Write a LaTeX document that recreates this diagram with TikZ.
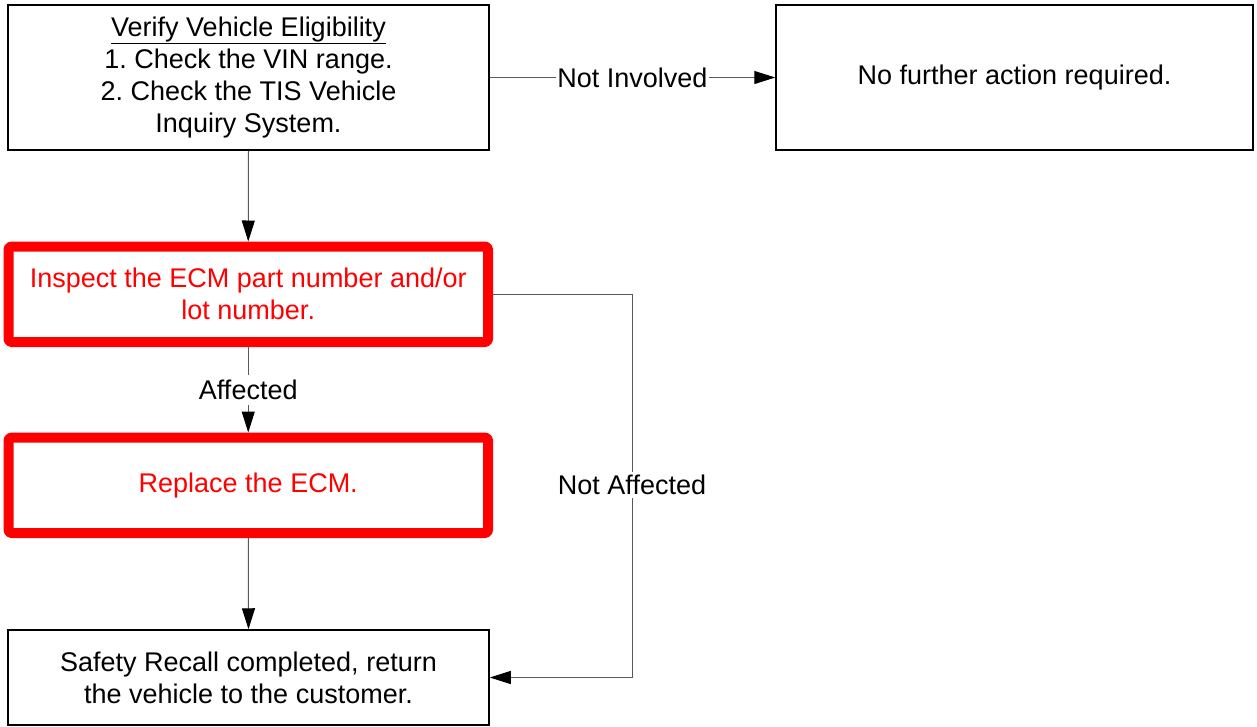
\documentclass[tikz,border=0pt]{standalone}
\usepackage{fontspec}
\setmainfont{Liberation Sans}
\usetikzlibrary{arrows.meta}
\frenchspacing
\begin{document}
\begin{tikzpicture}[x=1pt,y=-1pt,
  txt/.style={font=\fontsize{27}{32}\selectfont},
  box/.style={txt, draw=black, line width=1.5pt, align=center, inner sep=0pt},
  redbox/.style={txt, draw=red, line width=10pt, line join=round, rounded corners=3pt, text=red, align=center, inner sep=0pt},
  conn/.style={draw=black!65, line width=1pt, -{Triangle[length=21pt,width=13pt,color=black]}},
  lbl/.style={txt, fill=white, inner xsep=1pt, inner ysep=3pt}]
\useasboundingbox (0,0) rectangle (1257,726);
\node[box, minimum width=481pt, minimum height=145pt] (v) at (248.5,77.5)
  {\underline{Verify Vehicle Eligibility}\\1. Check the VIN range.\\2. Check the TIS Vehicle\\Inquiry System.};
\node[box, minimum width=477pt, minimum height=145pt] (n) at (1014.5,77.5)
  {No further action required.};
\node[redbox, minimum width=479.5pt, minimum height=95.5pt] (i) at (248.25,294.25)
  {Inspect the ECM part number and/or\\lot number.};
\node[redbox, minimum width=479.5pt, minimum height=95.5pt] (r) at (248.25,485.25)
  {Replace the ECM.};
\node[box, minimum width=481pt, minimum height=95pt] (s) at (248.5,677.5)
  {Safety Recall completed, return\\the vehicle to the customer.};
\draw[conn] (v.east) -- (n.west) node[lbl, midway] {Not Involved};
\draw[conn] (v.south) -- (i.north);
\draw[conn] (i.south) -- (r.north) node[lbl, midway, inner ysep=5pt] {Affected};
\draw[conn] (r.south) -- (s.north);
\draw[conn] (i.east) -- ++(139,0) coordinate (c) |- (s.east);
\node[lbl] (na) at (632,485) {Not Affected};
\end{tikzpicture}
\end{document}
